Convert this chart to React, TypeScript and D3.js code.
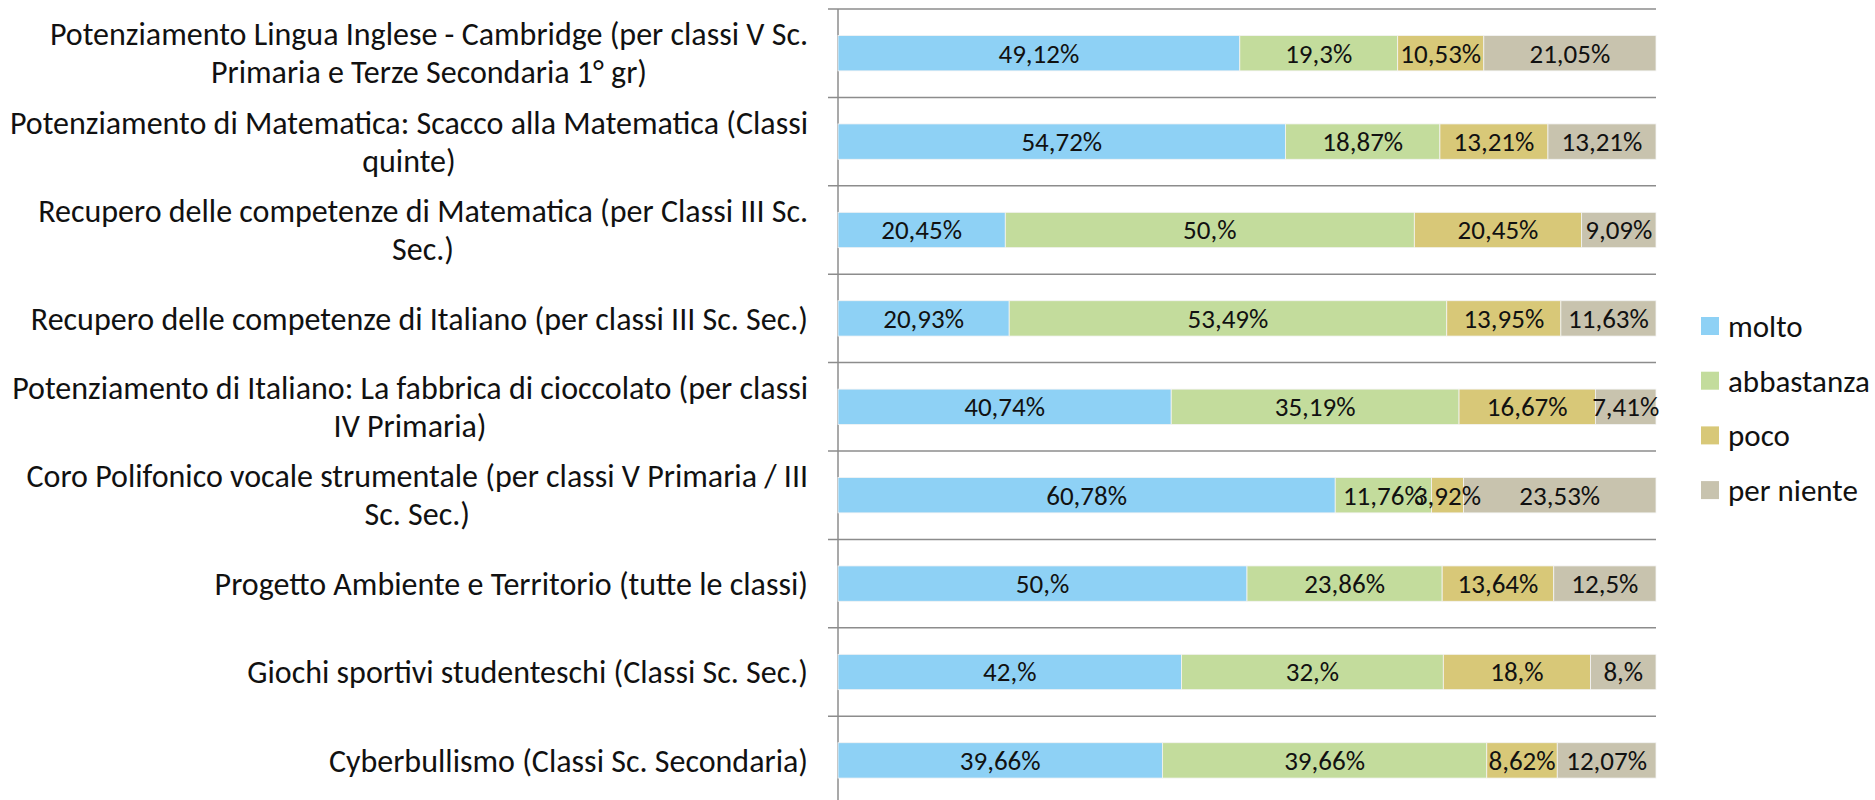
import React, { useEffect, useRef } from "react";
import * as d3 from "d3";

// category labels, already split on the lines the reference wraps at
const categories: string[][] = [
  ["Potenziamento Lingua Inglese - Cambridge (per classi V Sc.", "Primaria e Terze Secondaria 1° gr)"],
  ["Potenziamento di Matematica: Scacco alla Matematica (Classi", "quinte)"],
  ["Recupero delle competenze di Matematica (per Classi III Sc.", "Sec.)"],
  ["Recupero delle competenze di Italiano (per classi III Sc. Sec.)"],
  ["Potenziamento di Italiano: La fabbrica di cioccolato (per classi", "IV Primaria)"],
  ["Coro Polifonico vocale strumentale (per classi V Primaria / III", "Sc. Sec.)"],
  ["Progetto Ambiente e Territorio (tutte le classi)"],
  ["Giochi sportivi studenteschi (Classi Sc. Sec.)"],
  ["Cyberbullismo (Classi Sc. Secondaria)"],
];

const seriesNames = ["molto", "abbastanza", "poco", "per niente"];
const seriesColors = ["#8ed1f5", "#c3dc9c", "#d8c878", "#c8c3ae"];

const molto = [49.12, 54.72, 20.45, 20.93, 40.74, 60.78, 50, 42, 39.66];
const abbastanza = [19.3, 18.87, 50, 53.49, 35.19, 11.76, 23.86, 32, 39.66];
const poco = [10.53, 13.21, 20.45, 13.95, 16.67, 3.92, 13.64, 18, 8.62];
const perNiente = [21.05, 13.21, 9.09, 11.63, 7.41, 23.53, 12.5, 8, 12.07];

const fmt = (v: number) => {
  const s = String(v).replace(".", ",");
  return (Number.isInteger(v) ? s + "," : s) + "%";
};

const W = 1875;
const H = 800;
const FONT = "Carlito, Calibri, Lato, sans-serif";

export default function App() {
  const ref = useRef<SVGSVGElement>(null);

  useEffect(() => {
    if (!ref.current) return;
    const svg = d3.select(ref.current);
    svg.selectAll("*").remove();

    const x0 = 838;
    const x1 = 1656;
    const top = 9;
    const step = 88.4;

    const keys = categories.map((_, i) => String(i));
    const rows = keys.map((k, i) => ({
      key: k,
      molto: molto[i],
      abbastanza: abbastanza[i],
      poco: poco[i],
      "per niente": perNiente[i],
    }));

    const y = d3
      .scaleBand()
      .domain(keys)
      .range([top, top + step * keys.length])
      .paddingInner(0.6)
      .paddingOuter(0.3);
    const x = d3.scaleLinear().domain([0, 1]).range([x0, x1]);
    const color = d3.scaleOrdinal<string>().domain(seriesNames).range(seriesColors);

    const stacked = d3
      .stack<any>()
      .keys(seriesNames)
      .offset(d3.stackOffsetExpand)(rows);

    // gridlines between categories (with small outside ticks)
    const grid = svg.append("g");
    keys.forEach((k) => {
      const gy = (y(k) as number) - (y.step() * y.paddingInner()) / 2;
      grid
        .append("line")
        .attr("x1", x0 - 10)
        .attr("x2", x1)
        .attr("y1", gy)
        .attr("y2", gy)
        .attr("stroke", "#8c8c8c")
        .attr("stroke-width", 1.5);
    });
    grid
      .append("line")
      .attr("x1", x0)
      .attr("x2", x0)
      .attr("y1", top)
      .attr("y2", top + step * keys.length)
      .attr("stroke", "#8c8c8c")
      .attr("stroke-width", 1.5);

    // bars
    const layers = svg
      .append("g")
      .selectAll("g")
      .data(stacked)
      .join("g")
      .attr("fill", (d) => color(d.key));

    layers
      .selectAll("rect")
      .data((d) => d)
      .join("rect")
      .attr("x", (d) => x(d[0]))
      .attr("width", (d) => x(d[1]) - x(d[0]))
      .attr("y", (d) => y(d.data.key) as number)
      .attr("height", y.bandwidth())
      .attr("stroke", "#f4f4f4")
      .attr("stroke-width", 0.8);

    // data labels
    const labels = svg.append("g").attr("font-family", FONT).attr("font-size", 27).attr("fill", "#111");
    stacked.forEach((layer) => {
      layer.forEach((d) => {
        labels
          .append("text")
          .attr("x", (x(d[0]) + x(d[1])) / 2)
          .attr("y", (y(d.data.key) as number) + y.bandwidth() / 2)
          .attr("dy", "0.35em")
          .attr("text-anchor", "middle")
          .text(fmt(d.data[layer.key]));
      });
    });

    // category labels, right aligned block with centered lines
    const cat = svg.append("g").attr("font-family", FONT).attr("font-size", 32).attr("fill", "#111");
    const right = 808;
    const lh = 38;
    categories.forEach((lines, i) => {
      const cy = (y(keys[i]) as number) + y.bandwidth() / 2;
      const t = cat.append("text").attr("text-anchor", "middle");
      const spans = lines.map((line, j) =>
        t
          .append("tspan")
          .attr("y", cy + (j - (lines.length - 1) / 2) * lh)
          .attr("dy", "0.35em")
          .text(line)
      );
      const wmax = d3.max(spans, (s) => (s.node() as SVGTSpanElement).getComputedTextLength()) || 0;
      spans.forEach((s) => s.attr("x", right - wmax / 2));
    });

    // legend
    const legend = svg
      .append("g")
      .attr("font-family", FONT)
      .attr("font-size", 31)
      .attr("fill", "#111");
    seriesNames.forEach((name, i) => {
      const ly = 326 + i * 54.7;
      legend
        .append("rect")
        .attr("x", 1701)
        .attr("y", ly - 9)
        .attr("width", 18)
        .attr("height", 18)
        .attr("fill", color(name));
      legend
        .append("text")
        .attr("x", 1728)
        .attr("y", ly)
        .attr("dy", "0.35em")
        .text(name);
    });
  }, []);

  return (
    <svg
      ref={ref}
      width={W}
      height={H}
      style={{ position: "absolute", left: 0, top: 0, background: "#fff" }}
    />
  );
}
